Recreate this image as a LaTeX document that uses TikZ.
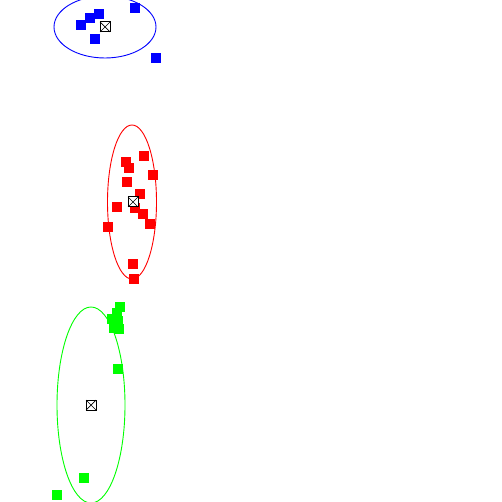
\documentclass[tikz,border=0pt]{standalone}
\usepackage{tikz}

\begin{document}
\begin{tikzpicture}[x=1pt,y=-1pt,inner sep=0pt,outer sep=0pt,
bpt/.style={rectangle,fill=blue,minimum size=10pt},
rpt/.style={rectangle,fill=red,minimum size=10pt},
gpt/.style={rectangle,fill=green,minimum size=10pt},
cmark/.style={draw=black,fill=white,rectangle,minimum size=10pt,line width=1pt},
hull/.style={line width=0.9pt}]

\useasboundingbox (0,0) rectangle (502,502);

\coordinate (bc) at (105,27);
\coordinate (rc) at (133,202);
\coordinate (gc) at (91,405);

% cluster outlines
\draw[hull,blue] (bc) ellipse [x radius=51, y radius=31];
\draw[hull,red] (132,202) ellipse [x radius=24.5, y radius=77];
\draw[hull,green] (gc) ellipse [x radius=34, y radius=98];

% blue cluster
\draw (81,25) node[bpt] (b1) {};
\draw (90,18) node[bpt] (b2) {};
\draw (99,14) node[bpt] (b3) {};
\draw (95,39) node[bpt] (b4) {};
\draw (135,8) node[bpt] (b5) {};
\draw (156,58) node[bpt] (b6) {};

% red cluster
\draw (126,162) node[rpt] (r1) {};
\draw (129,168) node[rpt] (r2) {};
\draw (144,156) node[rpt] (r3) {};
\draw (153,175) node[rpt] (r4) {};
\draw (127,182) node[rpt] (r5) {};
\draw (140,194) node[rpt] (r6) {};
\draw (117,207) node[rpt] (r7) {};
\draw (135,208) node[rpt] (r8) {};
\draw (143,214) node[rpt] (r9) {};
\draw (150,224) node[rpt] (r10) {};
\draw (108,227) node[rpt] (r11) {};
\draw (133,264) node[rpt] (r12) {};
\draw (134,279) node[rpt] (r13) {};

% green cluster
\draw (120,307) node[gpt] (g1) {};
\draw (117,313) node[gpt] (g2) {};
\draw (112,319) node[gpt] (g3) {};
\draw (118,321) node[gpt] (g4) {};
\draw (114,328) node[gpt] (g5) {};
\draw (119,329) node[gpt] (g6) {};
\draw (118,369) node[gpt] (g7) {};
\draw (84,478) node[gpt] (g8) {};
\draw (57,495) node[gpt] (g9) {};

% centres
\draw (bc) node[cmark] (bm) {};
\draw (rc) node[cmark] (rm) {};
\draw (gc) node[cmark] (gm) {};
\draw[line width=0.7pt] (bm.north west) -- (bm.south east) (bm.north east) -- (bm.south west);
\draw[line width=0.7pt] (rm.north west) -- (rm.south east) (rm.north east) -- (rm.south west);
\draw[line width=0.7pt] (gm.north west) -- (gm.south east) (gm.north east) -- (gm.south west);
\end{tikzpicture}
\end{document}
